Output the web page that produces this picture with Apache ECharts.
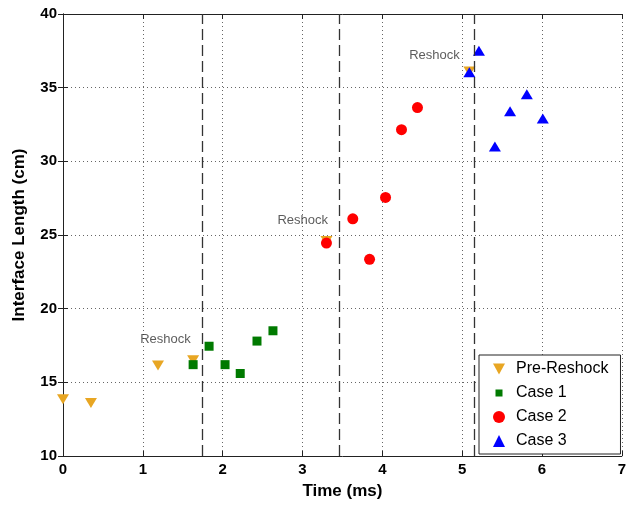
<!DOCTYPE html>
<html><head><meta charset="utf-8">
<script src="https://cdn.jsdelivr.net/npm/echarts@6/dist/echarts.min.js"></script>
<style>html,body{margin:0;padding:0;background:#fff}#c{width:629px;height:505px}</style>
</head><body><div id="c"></div>
<script>
const preReshock = [[0, 13.85], [0.35, 13.6], [1.19, 16.15], [1.63, 16.5], [3.30, 24.6], [5.09, 36.1]];
const case1 = [[1.63, 16.2], [1.83, 17.45], [2.03, 16.2], [2.22, 15.6], [2.43, 17.8], [2.63, 18.5]];
const case2 = [[3.30, 24.45], [3.63, 26.1], [3.84, 23.35], [4.04, 27.55], [4.24, 32.15], [4.44, 33.65]];
const case3 = [[5.09, 36.05], [5.21, 37.5], [5.41, 31.0], [5.60, 33.4], [5.81, 34.55], [6.01, 32.9]];
const reshockTimes = [1.74, 3.46, 5.15];
const annotations = [[1.60, 17.9, 'Reshock'], [3.32, 26.0, 'Reshock'], [4.97, 37.2, 'Reshock']];
const xTicks = [0, 7, 1];
const yTicks = [10, 40, 5];

const chart = echarts.init(document.getElementById('c'));
const font = 'Liberation Sans, Arial, sans-serif';
const gridLine = {show: true, lineStyle: {color: '#666', type: [1, 3], width: 1}};
const axisLine = {show: true, lineStyle: {color: '#222', width: 1}};
const tick = {show: true, inside: true, length: 5, lineStyle: {color: '#222'}};
chart.setOption({
  backgroundColor: '#fff',
  animation: false,
  grid: {left: 63, top: 14, right: 3, bottom: 46},
  xAxis: [{
    type: 'value', min: xTicks[0], max: xTicks[1], interval: xTicks[2],
    name: 'Time (ms)', nameLocation: 'middle', nameGap: 27,
    nameTextStyle: {fontFamily: font, fontSize: 17, fontWeight: 'bold', color: '#000'},
    axisLine: axisLine, axisTick: tick, splitLine: gridLine,
    axisLabel: {fontFamily: font, fontSize: 15, fontWeight: 'bold', color: '#000', margin: 6}
  }, {
    type: 'value', position: 'top', min: xTicks[0], max: xTicks[1], interval: xTicks[2],
    axisLine: axisLine, axisTick: tick, splitLine: {show: false}, axisLabel: {show: false}
  }],
  yAxis: [{
    type: 'value', min: yTicks[0], max: yTicks[1], interval: yTicks[2],
    name: 'Interface Length (cm)', nameLocation: 'middle', nameGap: 35,
    nameTextStyle: {fontFamily: font, fontSize: 17, fontWeight: 'bold', color: '#000'},
    axisLine: axisLine, axisTick: tick, splitLine: gridLine,
    axisLabel: {fontFamily: font, fontSize: 15, fontWeight: 'bold', color: '#000', margin: 6}
  }, {
    type: 'value', position: 'right', min: yTicks[0], max: yTicks[1], interval: yTicks[2],
    axisLine: axisLine, axisTick: tick, splitLine: {show: false}, axisLabel: {show: false}
  }],
  legend: {
    orient: 'vertical', left: 479, top: 355,
    backgroundColor: '#fff', borderColor: '#222', borderWidth: 1, borderRadius: 0,
    padding: [6, 12, 5, 14], itemGap: 8, itemWidth: 12, itemHeight: 12,
    textStyle: {fontFamily: font, fontSize: 16, color: '#000', padding: [0, 0, 0, 6]},
    data: [
      {name: 'Pre-Reshock', icon: 'path://M0,0 L10,0 L5,9 Z'},
      {name: 'Case 1', icon: 'path://M0,0 L0.01,0 L0,0.01 Z M12,12 L11.99,12 L12,11.99 Z M2.5,2.5 L9.5,2.5 L9.5,9.5 L2.5,9.5 Z'},
      {name: 'Case 2', icon: 'circle'},
      {name: 'Case 3', icon: 'triangle'}
    ]
  },
  series: [
    {name: 'Pre-Reshock', type: 'scatter', data: preReshock, symbol: 'triangle', symbolRotate: 180, symbolSize: [12, 10],
     itemStyle: {color: '#E8A623', opacity: 1},
     markLine: {silent: true, symbol: 'none', label: {show: false},
       lineStyle: {color: '#333', type: [11, 5], width: 1.3},
       data: reshockTimes.map(t => ({xAxis: t}))}},
    {name: 'Case 1', type: 'scatter', data: case1, symbol: 'rect', symbolSize: 9, itemStyle: {color: '#007A00', opacity: 1}},
    {name: 'Case 2', type: 'scatter', data: case2, symbol: 'circle', symbolSize: 11, itemStyle: {color: '#FF0000', opacity: 1}},
    {name: 'Case 3', type: 'scatter', data: case3, symbol: 'triangle', symbolSize: [12, 10], itemStyle: {color: '#0000FF', opacity: 1}},
    {name: 'ann', type: 'scatter', data: annotations, symbolSize: 0, silent: true,
     label: {show: true, position: 'left', distance: 0, formatter: p => p.data[2],
       fontFamily: font, fontSize: 13, color: '#333'}}
  ]
});
</script></body></html>
